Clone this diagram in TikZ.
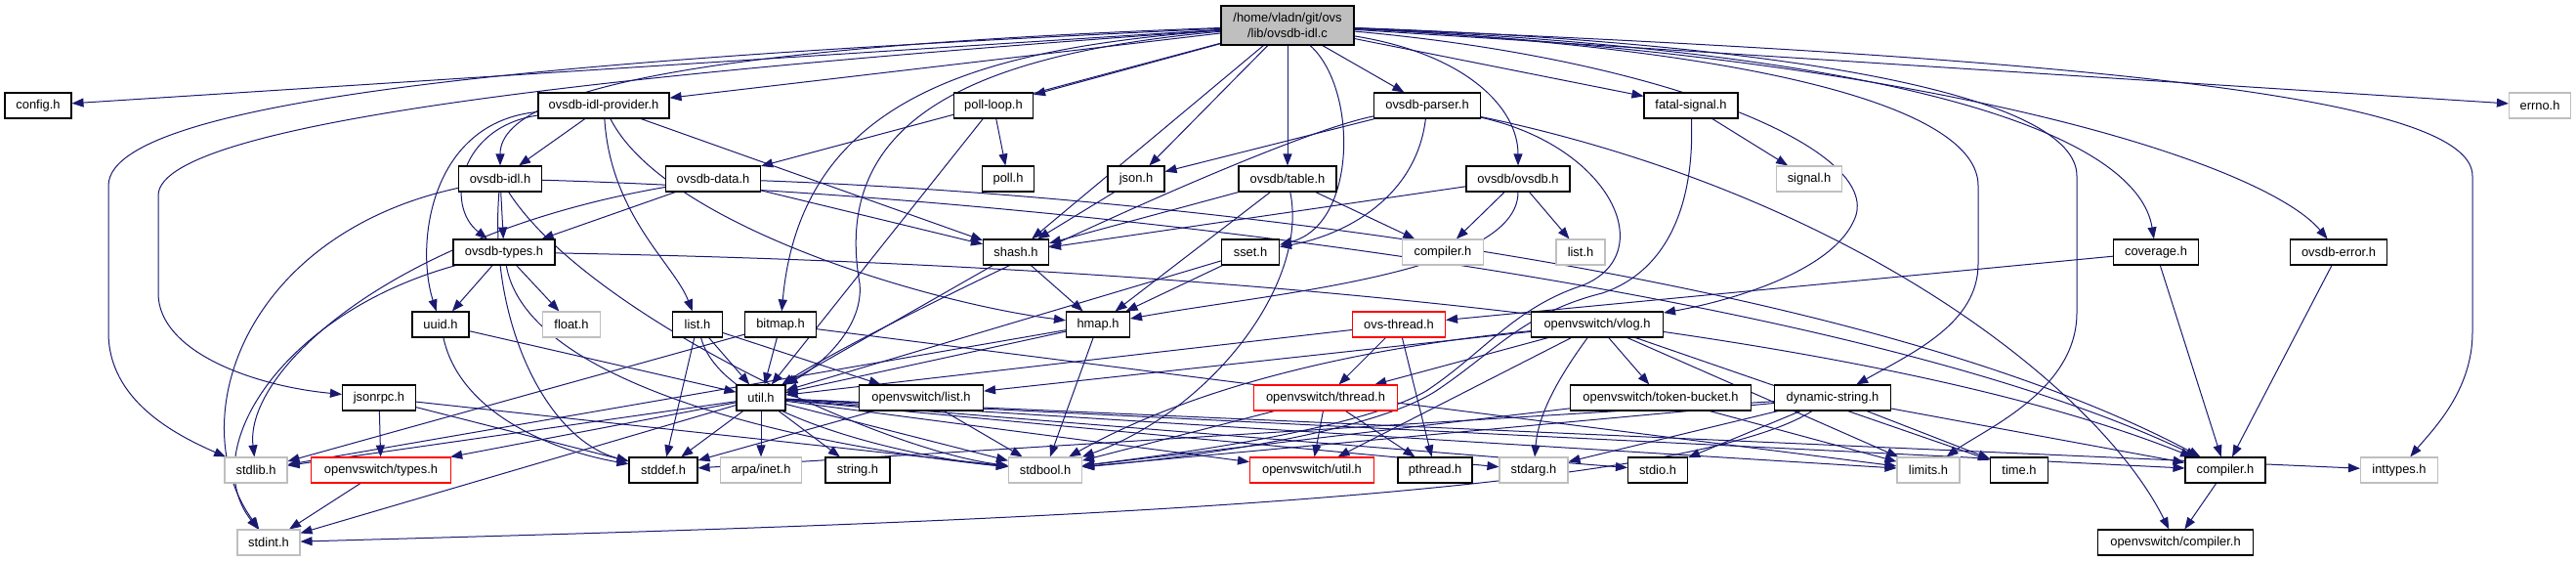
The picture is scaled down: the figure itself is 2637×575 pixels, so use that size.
\documentclass[tikz,border=0pt]{standalone}
\usepackage{fontspec}
\setmainfont{Liberation Sans}
\usetikzlibrary{arrows.meta}
\usetikzlibrary{backgrounds}
\definecolor{edgeblue}{HTML}{191970}
\definecolor{missgray}{HTML}{BFBFBF}
\tikzset{
	every node/.style = {font=\fontsize{12.9}{15.5}\selectfont}
}
\tikzset{
	hdr/.style = {draw=black, line width=1.1pt, fill=white, minimum height=26pt, inner sep=0pt},
	sysfile/.style = {hdr, draw=missgray},
	cutfile/.style = {hdr, draw=red},
	rootfile/.style = {hdr, fill=missgray, minimum height=40pt, align=center},
	inc/.style = {draw=edgeblue, line width=1pt, -{Triangle[length=12pt,width=9pt]}}
}

\begin{document}
\begin{tikzpicture}[x=1pt, y=-1pt]
	\useasboundingbox (0,0) rectangle (2637,575);

	% the file itself
	\node[rootfile, minimum width=136pt] (root) at (1318,26) {/home/vladn/git/ovs\\/lib/ovsdb-idl.c};

	% first row of headers
	\node[hdr, minimum width=68pt]  (config)   at (39,108)   {config.h};
	\node[hdr, minimum width=134pt] (provider) at (618,108)  {ovsdb-idl-provider.h};
	\node[hdr, minimum width=81pt]  (pollloop) at (1017,108) {poll-loop.h};
	\node[hdr, minimum width=109pt] (parser)   at (1461,108) {ovsdb-parser.h};
	\node[hdr, minimum width=96pt]  (fatal)    at (1731,108) {fatal-signal.h};
	\node[sysfile, minimum width=63pt] (errno) at (2600,108) {errno.h};

	% second row
	\node[hdr, minimum width=85pt]  (ovsdbidl)   at (512,183)  {ovsdb-idl.h};
	\node[hdr, minimum width=97pt]  (data)       at (730,183)  {ovsdb-data.h};
	\node[hdr, minimum width=53pt]  (poll)       at (1032,183) {poll.h};
	\node[hdr, minimum width=58pt]  (json)       at (1163,183) {json.h};
	\node[hdr, minimum width=100pt] (table)      at (1318,183) {ovsdb/table.h};
	\node[hdr, minimum width=106pt] (ovsdbovsdb) at (1554,183) {ovsdb/ovsdb.h};
	\node[sysfile, minimum width=67pt] (signal)  at (1852,183) {signal.h};

	% third row
	\node[hdr, minimum width=104pt] (types)       at (516,258)  {ovsdb-types.h};
	\node[hdr, minimum width=67pt]  (shash)       at (1040,258) {shash.h};
	\node[hdr, minimum width=59pt]  (sset)        at (1280,258) {sset.h};
	\node[sysfile, minimum width=83pt] (compilerg) at (1477,258) {compiler.h};
	\node[sysfile, minimum width=50pt] (listg)    at (1618,258) {list.h};
	\node[hdr, minimum width=87pt]  (coverage)    at (2207,258) {coverage.h};
	\node[hdr, minimum width=99pt]  (error)       at (2394,258) {ovsdb-error.h};

	% fourth row
	\node[hdr, minimum width=58pt]  (uuid)       at (451,332)  {uuid.h};
	\node[sysfile, minimum width=59pt] (float)   at (585,332)  {float.h};
	\node[hdr, minimum width=51pt]  (list)       at (714,332)  {list.h};
	\node[hdr, minimum width=73pt]  (bitmap)     at (799,332)  {bitmap.h};
	\node[hdr, minimum width=65pt]  (hmap)       at (1124,332) {hmap.h};
	\node[cutfile, minimum width=95pt] (ovsthread) at (1432,332) {ovs-thread.h};
	\node[hdr, minimum width=135pt] (vlog)       at (1635,332) {openvswitch/vlog.h};

	% fifth row
	\node[hdr, minimum width=75pt]  (jsonrpc)     at (388,407)  {jsonrpc.h};
	\node[hdr, minimum width=50pt]  (util)        at (779,407)  {util.h};
	\node[hdr, minimum width=127pt] (ovslist)     at (943,407)  {openvswitch/list.h};
	\node[cutfile, minimum width=147pt] (ovsthreadh) at (1357,407) {openvswitch/thread.h};
	\node[hdr, minimum width=185pt] (tokenbucket) at (1700,407) {openvswitch/token-bucket.h};
	\node[hdr, minimum width=119pt] (dynstr)      at (1876,407) {dynamic-string.h};

	% sixth row
	\node[sysfile, minimum width=64pt]  (stdlib)   at (262,481)  {stdlib.h};
	\node[cutfile, minimum width=143pt] (ovstypes) at (390,481)  {openvswitch/types.h};
	\node[hdr, minimum width=70pt]      (stddef)   at (679,481)  {stddef.h};
	\node[sysfile, minimum width=83pt]  (arpa)     at (779,481)  {arpa/inet.h};
	\node[hdr, minimum width=66pt]      (string)   at (878,481)  {string.h};
	\node[sysfile, minimum width=75pt]  (stdbool)  at (1070,481) {stdbool.h};
	\node[cutfile, minimum width=127pt] (ovsutil)  at (1343,481) {openvswitch/util.h};
	\node[hdr, minimum width=76pt]      (pthread)  at (1469,481) {pthread.h};
	\node[sysfile, minimum width=70pt]  (stdarg)   at (1570,481) {stdarg.h};
	\node[hdr, minimum width=61pt]      (stdio)    at (1697,481) {stdio.h};
	\node[sysfile, minimum width=64pt]  (limits)   at (1974,481) {limits.h};
	\node[hdr, minimum width=59pt]      (time)     at (2067,481) {time.h};
	\node[hdr, minimum width=82pt]      (compiler) at (2278,481) {compiler.h};
	\node[sysfile, minimum width=79pt]  (inttypes) at (2456,481) {inttypes.h};

	% last row
	\node[sysfile, minimum width=64pt] (stdint)   at (275,555)  {stdint.h};
	\node[hdr, minimum width=159pt] (ovscompiler) at (2227,555) {openvswitch/compiler.h};

	\begin{scope}[on background layer]
		% plain includes
		\foreach \a/\b in {root/config, root/errno, root/fatal, root/json, root/table, root/data,
				root/provider, root/parser, root/pollloop, root/shash,
				provider/ovsdbidl, provider/shash, ovsdbidl/types, data/types, data/shash,
				types/uuid, types/float, uuid/util, pollloop/poll, pollloop/util, json/shash,
				table/shash, table/hmap, table/compilerg, ovsdbovsdb/compilerg, ovsdbovsdb/listg,
				ovsdbovsdb/shash, parser/json, fatal/signal, coverage/ovsthread, coverage/compiler,
				error/compiler, shash/hmap, shash/util, sset/hmap, sset/util,
				list/stddef, list/util, list/ovslist, bitmap/util, bitmap/stdlib, bitmap/limits,
				hmap/util, hmap/stdbool, hmap/stdlib, ovsthread/ovsthreadh, ovsthread/pthread,
				ovsthread/util, vlog/tokenbucket, vlog/ovsutil, vlog/ovsthreadh, vlog/ovslist,
				vlog/limits, vlog/time, ovsthreadh/ovsutil, ovsthreadh/pthread,
				ovsthreadh/stdbool, tokenbucket/limits, tokenbucket/stdbool,
				dynstr/stdio, dynstr/stdarg, dynstr/stdbool, dynstr/stddef, dynstr/compiler, dynstr/time,
				jsonrpc/ovstypes, jsonrpc/stddef, jsonrpc/stdbool,
				util/arpa, util/string, util/stddef, util/ovstypes, util/stdlib, util/stdint,
				util/stdbool, util/ovsutil, util/limits, util/stdio, util/stdarg, util/compiler,
				util/inttypes, ovstypes/stdint, ovslist/stdbool, ovslist/stddef, compiler/ovscompiler}
			\draw[inc] (\a) -- (\b);

		% includes routed round the others
		\draw[inc] (root) .. controls (700,55) and (111,90) .. (111,190) -- (111,340) .. controls (111,410) and (180,445) .. (stdlib);
		\draw[inc] (root) .. controls (700,70) and (162,120) .. (162,200) -- (162,300) .. controls (162,360) and (260,395) .. (jsonrpc);
		\draw[inc] (root) .. controls (800,45) and (512,80) .. (ovsdbidl);
		\draw[inc] (root) .. controls (1800,50) and (2025,110) .. (2025,190) -- (2025,270) .. controls (2025,330) and (1960,360) .. (dynstr);
		\draw[inc] (root) .. controls (1850,45) and (2126,100) .. (2126,180) -- (2126,320) .. controls (2126,400) and (2030,440) .. (limits);
		\draw[inc] (root) .. controls (2150,60) and (2531,100) .. (2531,180) -- (2531,340) .. controls (2531,400) and (2490,440) .. (inttypes);
		\draw[inc] (root) .. controls (2000,60) and (2320,170) .. (error);
		\draw[inc] (root) .. controls (2000,55) and (2190,150) .. (coverage);
		\draw[inc] (root) .. controls (1700,60) and (1920,150) .. (1900,220) .. controls (1880,280) and (1760,310) .. (vlog);
		\draw[inc] (root) .. controls (1500,55) and (1554,110) .. (ovsdbovsdb);
		\draw[inc] (root) .. controls (1000,50) and (820,100) .. (bitmap);
		\draw[inc] (root) .. controls (1000,55) and (850,120) .. (880,290) .. controls (885,340) and (830,380) .. (util);
		\draw[inc] (root) .. controls (1390,90) and (1390,230) .. (sset);

		\draw[inc] (provider) .. controls (470,130) and (455,210) .. (types);
		\draw[inc] (provider) .. controls (440,125) and (425,250) .. (uuid);
		\draw[inc] (provider) .. controls (625,220) and (690,270) .. (list);
		\draw[inc] (provider) .. controls (680,230) and (950,310) .. (hmap);
		\draw[inc] (ovsdbidl) .. controls (1100,200) and (1900,300) .. (compiler);
		\draw[inc] (ovsdbidl) .. controls (250,240) and (185,430) .. (stdint);
		\draw[inc] (ovsdbidl) .. controls (600,320) and (900,460) .. (stdbool);
		\draw[inc] (ovsdbidl) .. controls (500,330) and (560,450) .. (stddef);
		\draw[inc] (types) .. controls (290,320) and (200,460) .. (stdint);
		\draw[inc] (types) .. controls (540,400) and (850,460) .. (stdbool);
		\draw[inc] (types) .. controls (1200,270) and (1900,330) .. (compiler);
		\draw[inc] (data) .. controls (400,240) and (250,380) .. (stdlib);
		\draw[inc] (data) .. controls (1200,200) and (1900,280) .. (compiler);
		\draw[inc] (uuid) .. controls (470,420) and (560,460) .. (stddef);
		\draw[inc] (table) .. controls (1340,290) and (1240,420) .. (stdbool);
		\draw[inc] (ovsdbovsdb) .. controls (1554,280) and (1300,300) .. (hmap);
		\draw[inc] (parser) .. controls (1300,140) and (900,330) .. (util);
		\draw[inc] (parser) .. controls (1450,200) and (1380,240) .. (sset);
		\draw[inc] (parser) .. controls (1650,150) and (1700,260) .. (1620,292) .. controls (1550,315) and (1520,360) .. (1460,400) .. controls (1390,440) and (1200,465) .. (stdbool);
		\draw[inc] (parser) .. controls (1900,200) and (2150,400) .. (ovscompiler);
		\draw[inc] (fatal) .. controls (1735,220) and (1700,280) .. (1640,300) .. controls (1560,320) and (1530,360) .. (1470,400) .. controls (1400,445) and (1200,470) .. (stdbool);
		\draw[inc] (list) .. controls (740,430) and (950,470) .. (stdbool);
		\draw[inc] (vlog) .. controls (1450,350) and (1250,380) .. (stdbool);
		\draw[inc] (vlog) .. controls (1600,380) and (1575,420) .. (stdarg);
		\draw[inc] (dynstr) .. controls (1700,520) and (800,540) .. (stdint);
	\end{scope}
\end{tikzpicture}
\end{document}
